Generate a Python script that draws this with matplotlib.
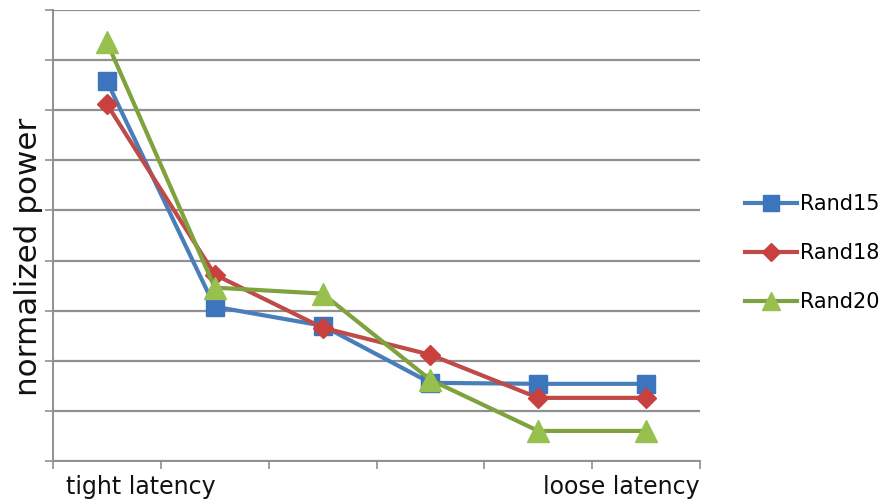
import matplotlib
matplotlib.use("Agg")
import matplotlib.pyplot as plt
from matplotlib.transforms import blended_transform_factory

# Category labels along the latency axis (only the ends are named)
categories = ["tight latency", "", "", "", "", "loose latency"]

# Normalized power per latency setting
rand15 = [7.58, 3.08, 2.70, 1.56, 1.54, 1.54]
rand18 = [7.12, 3.72, 2.66, 2.12, 1.26, 1.26]
rand20 = [8.36, 3.46, 3.34, 1.62, 0.60, 0.60]

series_names = ["Rand15", "Rand18", "Rand20"]

fig = plt.figure(figsize=(8.84, 5.04), dpi=100)
ax = fig.add_axes([53 / 884, 43 / 504, 647 / 884, 451 / 504])

x = list(range(len(categories)))

styles = [
    dict(color="#4A7EBB", marker="s", markersize=13.5, markerfacecolor="#3D74BE",
         markeredgecolor="#3D74BE"),
    dict(color="#BE4B48", marker="D", markersize=10.5, markerfacecolor="#C8413F",
         markeredgecolor="#C8413F"),
    dict(color="#7FA23F", marker="^", markersize=15.5, markerfacecolor="#97C04F",
         markeredgecolor="#97C04F"),
]

for vals, name, st in zip([rand15, rand18, rand20], series_names, styles):
    ax.plot(x, vals, lw=3.0, label=name, solid_joinstyle="round", zorder=3, **st)

ax.set_xlim(-0.5, len(categories) - 0.5)
ax.set_ylim(0, 9)

# horizontal gridlines at every unit, extended left as tick marks
ax.set_yticks(range(0, 10))
ax.set_yticklabels([])
ax.yaxis.grid(True, color="#909090", lw=1.6)
ax.tick_params(axis="y", length=6, width=1.2, color="#909090", direction="out")

# x tick marks at category boundaries
ax.set_xticks([i - 0.5 for i in range(len(categories) + 1)])
ax.set_xticklabels([])
ax.tick_params(axis="x", length=6, width=1.2, color="#909090", direction="out")

for side in ("top", "right"):
    ax.spines[side].set_visible(False)
for side in ("left", "bottom"):
    ax.spines[side].set_color("#909090")
    ax.spines[side].set_linewidth(1.4)
ax.set_axisbelow(True)

trans = blended_transform_factory(ax.transAxes, fig.transFigure)
ax.text(13 / 647, 17 / 504, categories[0], transform=trans, ha="left",
        va="center", fontsize=17, color="#111111")
ax.text(1.0, 17 / 504, categories[-1], transform=trans, ha="right",
        va="center", fontsize=17, color="#111111")

fig.text(29 / 884, 1 - 257 / 504, "normalized power", rotation=90, ha="center",
         va="center", fontsize=22.3, color="#111111")

leg = ax.legend(loc="center left", bbox_to_anchor=(745 / 884, 1 - 253 / 504),
                bbox_transform=fig.transFigure, frameon=False, fontsize=15,
                handlelength=2.5, handletextpad=0.15, labelspacing=1.4,
                borderpad=0, borderaxespad=0)
for h in leg.legend_handles:
    h.set_markersize(h.get_markersize() * 0.85)

fig.savefig("out.png", dpi=100)
